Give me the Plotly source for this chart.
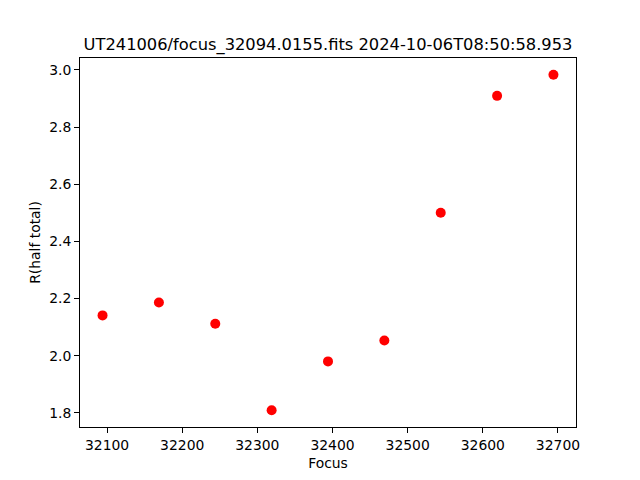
import plotly.graph_objects as go

focus = [32094, 32169, 32244, 32319, 32394, 32469, 32544, 32619, 32694]
r_half_total = [2.141, 2.186, 2.112, 1.809, 1.980, 2.053, 2.500, 2.909, 2.983]
title_text = "UT241006/focus_32094.0155.fits 2024-10-06T08:50:58.953"
x_ticks = [32100, 32200, 32300, 32400, 32500, 32600, 32700]
y_ticks = [1.8, 2.0, 2.2, 2.4, 2.6, 2.8, 3.0]

fig = go.Figure()
fig.add_trace(go.Scatter(
    x=focus, y=r_half_total, mode="markers",
    marker=dict(color="#ff0000", size=10, line=dict(width=0)),
    showlegend=False,
))

font = "DejaVu Sans"
axis_common = dict(
    showline=True, linecolor="black", linewidth=1, mirror=True,
    ticks="outside", ticklen=5, tickwidth=1, tickcolor="black",
    showgrid=False, zeroline=False, automargin=False,
    tickfont=dict(family=font, size=13.9, color="black"),
)

# the page body adds an 8px offset; margins compensate so the axes land at 80..576 x 58..427
fig.update_layout(
    width=640, height=480,
    margin=dict(l=72, r=72, t=50, b=61),
    paper_bgcolor="white", plot_bgcolor="white",
    title=dict(text=title_text, x=0.5, xref="paper", xanchor="center",
               y=1 - 36 / 480, yanchor="middle",
               font=dict(family=font, size=16.3, color="black")),
    xaxis=dict(range=[32064, 32724], tickvals=x_ticks, tickformat="d",
               title=dict(text="Focus", font=dict(family=font, size=13.9, color="black"), standoff=6),
               **axis_common),
    yaxis=dict(range=[1.7505, 3.0415], tickvals=y_ticks, tickformat=".1f",
               title=dict(text="R(half total)", font=dict(family=font, size=13.9, color="black"), standoff=5),
               **axis_common),
)

fig.write_html("out.html")
